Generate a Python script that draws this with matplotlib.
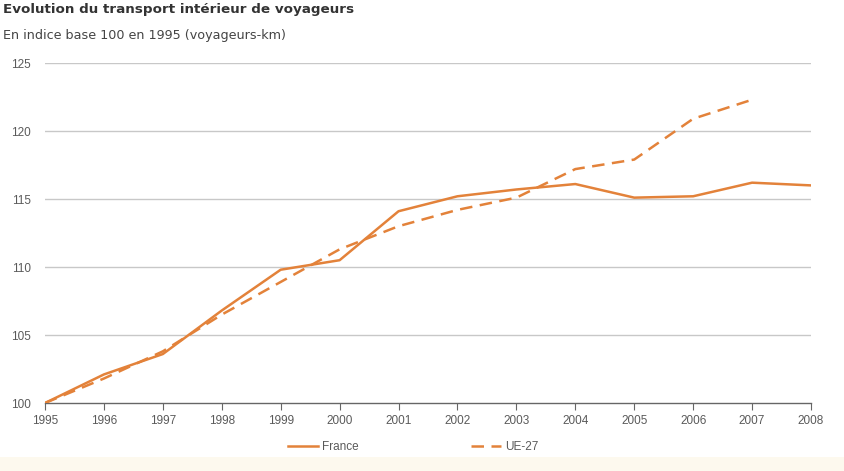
import matplotlib
matplotlib.use('Agg')
import matplotlib.pyplot as plt
import matplotlib.patches as mpatches

# Data (index base 100 in 1995, passenger-km)
years = [1995, 1996, 1997, 1998, 1999, 2000, 2001, 2002, 2003, 2004, 2005, 2006, 2007, 2008]
france = [100.0, 102.1, 103.6, 106.8, 109.8, 110.5, 114.1, 115.2, 115.7, 116.1, 115.1, 115.2, 116.2, 116.0]
ue_years = years[:-1]
ue27 = [100.0, 101.8, 103.8, 106.5, 108.9, 111.3, 113.0, 114.2, 115.1, 117.2, 117.9, 120.9, 122.3]
yticks = [100, 105, 110, 115, 120, 125]

_ORANGE = '#e3823a'
_GRID = '#c8c8c8'
_TEXT = '#5a5a5a'

fig = plt.figure(figsize=(8.44, 4.71), dpi=100)
fig.patch.set_facecolor('white')

# light beige strip at the bottom of the picture
fig.patches.append(mpatches.Rectangle((0, 0), 1, 14 / 471, transform=fig.transFigure,
                                      facecolor='#fdf9ee', edgecolor='none', zorder=0))

ax = fig.add_axes([45 / 844, 1 - 403 / 471, (811 - 45) / 844, (403 - 63) / 471])
ax.set_facecolor('white')

ax.plot(years, france, color=_ORANGE, linewidth=1.8, label='France', zorder=3)
ax.plot(ue_years, ue27, color=_ORANGE, linewidth=1.8, linestyle=(0, (5, 3)),
        label='UE-27', zorder=3)

ax.set_xlim(1995, 2008)
ax.set_ylim(100, 125)
ax.set_yticks(yticks)
ax.set_xticks(years)
ax.set_xticklabels([str(y) for y in years], family='Liberation Sans', fontsize=8.5, color=_TEXT)
ax.set_yticklabels([str(v) for v in yticks], family='Liberation Sans', fontsize=8.5, color=_TEXT)

for v in yticks[1:]:
    ax.axhline(v, color=_GRID, linewidth=1.0, zorder=1)

for s in ['top', 'right', 'left']:
    ax.spines[s].set_visible(False)
ax.spines['bottom'].set_color('#666666')
ax.spines['bottom'].set_linewidth(1.0)
ax.tick_params(axis='x', direction='out', length=5, color='#666666', pad=4)
ax.tick_params(axis='y', length=0, pad=10)

leg = fig.legend(loc='center', bbox_to_anchor=(413 / 844, 1 - 447 / 471), ncol=2,
                 frameon=False, handlelength=2.6, handletextpad=0.3, columnspacing=9.5,
                 prop={'family': 'Liberation Sans', 'size': 8.5})
for t in leg.get_texts():
    t.set_color(_TEXT)

fig.text(3 / 844, 1 - 9 / 471, 'Evolution du transport intérieur de voyageurs',
         fontsize=9.7, fontweight='bold', color='#333333', va='center', ha='left',
         family='DejaVu Sans')
fig.text(3 / 844, 1 - 36 / 471, 'En indice base 100 en 1995 (voyageurs-km)',
         fontsize=9.2, color='#444444', va='center', ha='left', family='DejaVu Sans')

fig.savefig('out.png', dpi=100, facecolor=fig.get_facecolor())
